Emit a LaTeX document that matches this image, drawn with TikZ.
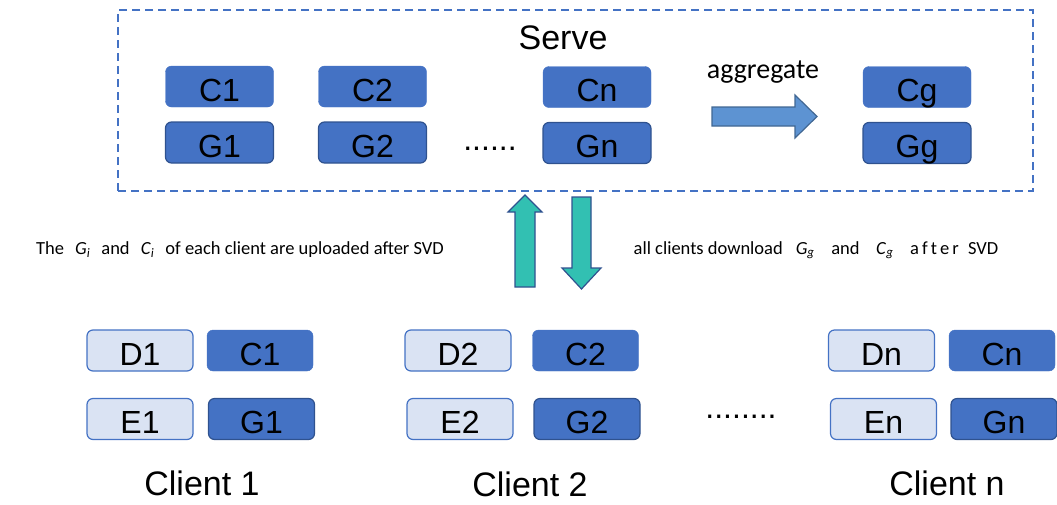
\documentclass[tikz,border=0pt]{standalone}
\usepackage{fontspec}
\setmainfont{Liberation Sans}
\newfontfamily\calibri{Carlito}

\definecolor{boxblue}{RGB}{68,114,196}
\definecolor{darkblue}{RGB}{47,82,143}
\definecolor{paleblue}{RGB}{218,227,243}
\definecolor{upteal}{RGB}{50,192,178}
\definecolor{aggblue}{RGB}{93,147,210}

\tikzset{
  cbox/.style={draw=boxblue, fill=boxblue, rounded corners=6pt, minimum width=108pt, minimum height=41pt, inner sep=0pt, text height=29pt, text depth=0pt, font=\fontsize{32}{32}\selectfont},
  gbox/.style={cbox, draw=darkblue, line width=1.2pt},
  dbox/.style={cbox, draw=boxblue, fill=paleblue, line width=1.2pt},
  bigtext/.style={font=\fontsize{34}{34}\selectfont},
  captext/.style={font=\calibri\fontsize{18.5}{18.5}\selectfont},
  blockarrow/.style={draw=darkblue, line width=1.2pt, line join=miter}
}

\begin{document}
\begin{tikzpicture}[x=1pt, y=-1pt]
\useasboundingbox (0,0) rectangle (1057,504);
\node [draw=boxblue, dash pattern=on 8pt off 5pt, line width=1.5pt, minimum width=915pt, minimum height=181pt, inner sep=0pt] (server) at (575.5,100.5) {};
\node [bigtext] (serve) at (563,38) {Serve};
\node [cbox] (sc1) at (219.5,86.5) {C1};
\node [gbox] (sg1) at (219.5,142.5) {G1};
\node [cbox] (sc2) at (372.5,86.5) {C2};
\node [gbox] (sg2) at (372.5,142.5) {G2};
\node [font=\fontsize{32}{32}\selectfont] (sdots) at (490,149) {......};
\node [cbox] (scn) at (597,87) {Cn};
\node [gbox] (sgn) at (597,143) {Gn};
\node [cbox] (scg) at (917,87) {Cg};
\node [gbox] (sgg) at (917,143) {Gg};
\node [font=\calibri\fontsize{28}{28}\selectfont] (aggtext) at (763,72) {aggregate};
\draw [blockarrow, draw=aggblue!70!black, fill=aggblue]
     (712,107) -- (795,107) -- (795,95) -- (817,116.5) -- (795,138) -- (795,126) -- (712,126) -- cycle;

\draw [blockarrow, fill=upteal]
     (525,195) -- (542,212) -- (535,212) -- (535,287) -- (515,287) -- (515,212) -- (508,212) -- cycle;
\draw [blockarrow, fill=upteal]
     (572,197) -- (591,197) -- (591,268) -- (601,268) -- (581.5,289) -- (562,268) -- (572,268) -- cycle;
\node [captext] (uptext) at (240,250) {The\hspace{0.6em}\textit{G}\textsubscript{\textit{i}}\hspace{0.6em}and\hspace{0.6em}\textit{C}\textsubscript{\textit{i}}\hspace{0.6em}of each client are uploaded after SVD};
\node [captext] (downtext) at (816,250) {all clients download\hspace{0.7em}\textit{G}\textsubscript{\textit{g}}\hspace{0.9em}and\hspace{0.9em}\textit{C}\textsubscript{\textit{g}}\hspace{0.9em}a\,f\,t\,e\,r\hspace{0.5em}SVD};

\node [dbox, minimum width=106pt] (d1) at (140,350.5) {D1};
\node [cbox, minimum width=106pt] (c1) at (260,350.5) {C1};
\node [dbox, minimum width=106pt] (e1) at (140,419) {E1};
\node [gbox, minimum width=106pt] (g1) at (261.5,419) {G1};
\node [dbox, minimum width=106pt] (d2) at (458,350.5) {D2};
\node [cbox, minimum width=106pt] (c2) at (585.5,350.5) {C2};
\node [dbox, minimum width=106pt] (e2) at (460,419) {E2};
\node [gbox, minimum width=106pt] (g2) at (587,419) {G2};
\node [font=\fontsize{32}{32}\selectfont] (cdots) at (741,417) {........};
\node [dbox, minimum width=106pt] (dn) at (881.5,350.5) {Dn};
\node [cbox, minimum width=106pt] (cn) at (1002,350.5) {Cn};
\node [dbox, minimum width=106pt] (en) at (883.5,419) {En};
\node [gbox, minimum width=106pt] (gn) at (1004,419) {Gn};

\node [bigtext] (client1) at (202,483) {Client 1};
\node [bigtext] (client2) at (530,484) {Client 2};
\node [bigtext] (clientn) at (947,483) {Client n};
\end{tikzpicture}
\end{document}
